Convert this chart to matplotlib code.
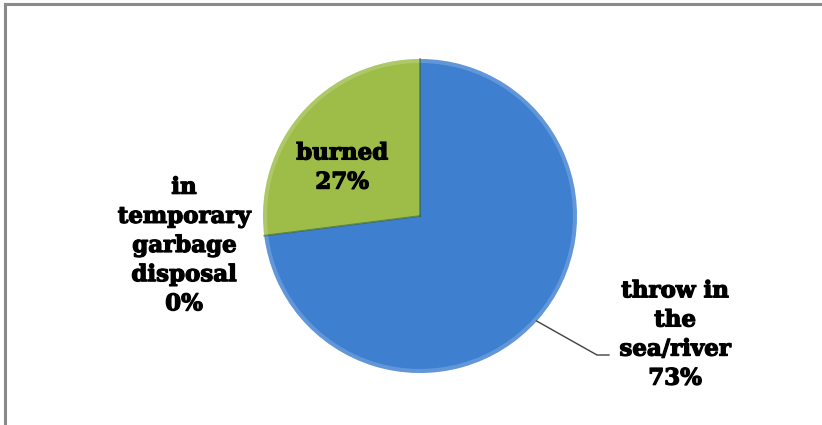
"""Pie chart: how households get rid of their garbage
"""
import numpy as np
import matplotlib.pyplot as plt
import matplotlib.patheffects as pe
from matplotlib.lines import Line2D
from matplotlib.patches import Wedge

# Data
labels = ['throw in\nthe\nsea/river', 'in\ntemporary\ngarbage\ndisposal', 'burned']
shares = [73, 0, 27]
colors = ['#3f7fd0', '#ffffff', '#9dbd48']

W, H = 822, 425
fig = plt.figure(figsize=(W / 100, H / 100), dpi=100)
ax = fig.add_axes([0, 0, 1, 1])

# pie centre / radius in pixel units (y measured from bottom)
cx, cy, r = 420, H - 216, 157

wedges, _ = ax.pie(shares, colors=colors, startangle=90, counterclock=False,
                   center=(cx, cy), radius=r, frame=True,
                   wedgeprops=dict(edgecolor='none', linewidth=0))

# subtle bevel highlight along the rim
for w in wedges:
    if w.theta2 - w.theta1 > 0.1:
        ax.add_patch(Wedge((cx, cy), r, w.theta1, w.theta2, width=4,
                           facecolor='white', alpha=0.18, edgecolor='none'))
# dark separating edge between the two visible slices
for ang in (90, wedges[0].theta1):
    t = np.deg2rad(ang)
    ax.plot([cx, cx + r * np.cos(t)], [cy, cy + r * np.sin(t)],
            color='#2f5f30', lw=1.2, alpha=0.6)

font = dict(family='DejaVu Serif', fontweight='bold', fontsize=16.5,
            color='black', ha='center', va='center', linespacing=1.42,
            path_effects=[pe.withStroke(linewidth=0.9, foreground='black')])

# labels
ax.text(342, H - 168, f'{labels[2]}\n{shares[2]}%', **font)
ax.text(184, H - 246, f'{labels[1]}\n{shares[1]}%', **font)
ax.text(675, H - 335, f'{labels[0]}\n{shares[0]}%', **font)

# leader line for the large slice
t = np.deg2rad(-42)
ex, ey = cx + r * np.cos(t), cy + r * np.sin(t)
ax.plot([ex, 597, 609], [ey, H - 355, H - 355], color='#404040', lw=1)

ax.set_xlim(0, W)
ax.set_ylim(0, H)
ax.set_aspect('auto')
ax.axis('off')

# chart border (top and left)
fig.add_artist(Line2D([4.5 / W, 4.5 / W], [0, 1 - 4 / H], color='#8a8a8a', lw=2.2))
fig.add_artist(Line2D([4.5 / W, 1], [1 - 4 / H, 1 - 4 / H], color='#8a8a8a', lw=2.2))

fig.savefig('out.png', dpi=100)
